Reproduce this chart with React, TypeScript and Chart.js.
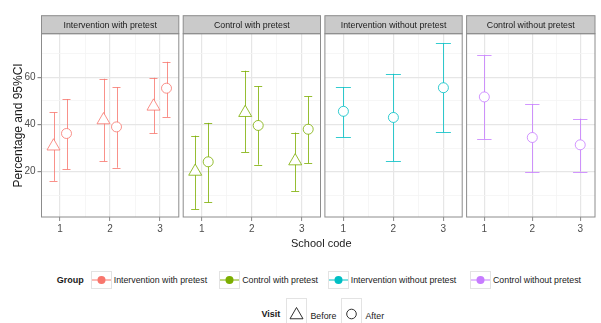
import React, { useEffect, useRef } from 'react';
import { Chart, registerables } from 'chart.js';

Chart.register(...registerables);

// ---------- data ----------
const schools = [1, 2, 3];
const groupNames = [
  'Intervention with pretest',
  'Control with pretest',
  'Intervention without pretest',
  'Control without pretest',
];
const groupColors = ['#F8766D', '#7CAE00', '#00BFC4', '#C77CFF'];
const visitNames = ['Before', 'After'];
const yMajorTicks = [20, 40, 60];
const yMinorTicks = [10, 30, 50, 70];

const iwpBeforeMean = [30.8, 41.9, 47.7];
const iwpBeforeLow = [16.1, 24.4, 36.2];
const iwpBeforeHigh = [45.1, 59.4, 59.8];
const iwpAfterMean = [36.2, 39.0, 55.4];
const iwpAfterLow = [21.0, 21.7, 43.2];
const iwpAfterHigh = [50.8, 55.8, 66.6];

const cwpBeforeMean = [20.1, 45.0, 24.5];
const cwpBeforeLow = [4.1, 28.3, 11.7];
const cwpBeforeHigh = [35.3, 62.8, 36.6];
const cwpAfterMean = [24.2, 39.6, 38.0];
const cwpAfterLow = [7.0, 23.0, 23.6];
const cwpAfterHigh = [40.7, 56.2, 51.9];

const iwopAfterMean = [45.6, 43.0, 55.6];
const iwopAfterLow = [34.6, 24.4, 36.7];
const iwopAfterHigh = [55.8, 61.5, 74.4];

const cwopAfterMean = [51.7, 34.5, 31.4];
const cwopAfterLow = [33.9, 19.7, 20.0];
const cwopAfterHigh = [69.3, 48.7, 42.5];

// ---------- layout / style ----------
const FONT = '"Liberation Sans", Arial, Helvetica, sans-serif';
const W = 601;
const CH = 250;
const PANEL_LEFT0 = 41.5;
const PANEL_STRIDE = 141.7;
const PANEL_W = 137.3;
const STRIP_H = 18;
const AREA_TOP = 33.7;
const AREA_BOTTOM = 217;
const X_MIN = 0.63;
const PX_PER_UNIT = 50;
const Y_MIN = 0.8;
const Y_MAX = 78.5;
const BORDER = '#8C8C8C';
const STRIP_FILL = '#CACACA';
const GRID_MAJOR = '#E6E6E6';
const GRID_MINOR = '#F4F4F4';
const TICK_TEXT = '#4D4D4D';
const MARK_ALPHA = 0.8;

function withAlpha(hex: string, a: number) {
  const n = parseInt(hex.slice(1), 16);
  return `rgba(${(n >> 16) & 255},${(n >> 8) & 255},${n & 255},${a})`;
}

type Series = { visit: string; mean: number[]; low: number[]; high: number[] };
const panels: { title: string; color: string; series: Series[] }[] = [
  {
    title: groupNames[0],
    color: groupColors[0],
    series: [
      { visit: visitNames[0], mean: iwpBeforeMean, low: iwpBeforeLow, high: iwpBeforeHigh },
      { visit: visitNames[1], mean: iwpAfterMean, low: iwpAfterLow, high: iwpAfterHigh },
    ],
  },
  {
    title: groupNames[1],
    color: groupColors[1],
    series: [
      { visit: visitNames[0], mean: cwpBeforeMean, low: cwpBeforeLow, high: cwpBeforeHigh },
      { visit: visitNames[1], mean: cwpAfterMean, low: cwpAfterLow, high: cwpAfterHigh },
    ],
  },
  {
    title: groupNames[2],
    color: groupColors[2],
    series: [{ visit: visitNames[1], mean: iwopAfterMean, low: iwopAfterLow, high: iwopAfterHigh }],
  },
  {
    title: groupNames[3],
    color: groupColors[3],
    series: [{ visit: visitNames[1], mean: cwopAfterMean, low: cwopAfterLow, high: cwopAfterHigh }],
  },
];

const xTickValues = [1, 1.5, 2, 2.5, 3];
const yTickValues = [...yMinorTicks, ...yMajorTicks].sort((a, b) => a - b);

const facetPlugin = {
  id: 'facet',
  beforeDraw(chart: any) {
    const { ctx, chartArea: a } = chart;
    ctx.save();
    ctx.fillStyle = '#FFFFFF';
    ctx.fillRect(a.left, a.top, a.right - a.left, a.bottom - a.top);
    ctx.fillStyle = STRIP_FILL;
    ctx.fillRect(a.left, a.top - STRIP_H, a.right - a.left, STRIP_H);
    ctx.restore();
  },
  beforeDatasetsDraw(chart: any) {
    const { ctx, scales } = chart;
    const x = scales.x;
    const y = scales.y;
    ctx.save();
    ctx.lineWidth = 1;
    chart.data.datasets.forEach((ds: any) => {
      ctx.strokeStyle = ds.borderColor;
      ds.data.forEach((p: any, i: number) => {
        const px = x.getPixelForValue(p.x);
        const cw = x.getPixelForValue(p.x + ds.capHalf) - px;
        const yl = y.getPixelForValue(ds.low[i]);
        const yh = y.getPixelForValue(ds.high[i]);
        const cx = Math.round(px) + 0.5;
        ctx.beginPath();
        ctx.moveTo(cx, yl);
        ctx.lineTo(cx, yh);
        ctx.moveTo(px - cw, Math.round(yl) + 0.5);
        ctx.lineTo(px + cw, Math.round(yl) + 0.5);
        ctx.moveTo(px - cw, Math.round(yh) + 0.5);
        ctx.lineTo(px + cw, Math.round(yh) + 0.5);
        ctx.stroke();
      });
    });
    ctx.restore();
  },
  afterDraw(chart: any, _args: any, opts: any) {
    const { ctx, chartArea: a } = chart;
    ctx.save();
    ctx.strokeStyle = BORDER;
    ctx.lineWidth = 1;
    ctx.strokeRect(a.left, a.top, a.right - a.left, a.bottom - a.top);
    ctx.strokeRect(a.left, a.top - STRIP_H, a.right - a.left, STRIP_H);
    ctx.fillStyle = '#1A1A1A';
    ctx.font = `8.8px ${FONT}`;
    ctx.textAlign = 'center';
    ctx.textBaseline = 'middle';
    ctx.fillText(opts.title, (a.left + a.right) / 2, a.top - STRIP_H / 2 + 0.5);
    ctx.restore();
  },
};

function Panel({ index }: { index: number }) {
  const ref = useRef<HTMLCanvasElement | null>(null);
  useEffect(() => {
    const p = panels[index];
    const left = PANEL_LEFT0 + index * PANEL_STRIDE;
    const right = Math.min(left + PANEL_W, W - 0.5);
    const xMax = X_MIN + (right - left) / PX_PER_UNIT;
    const dodge = p.series.length > 1;
    const offsets = dodge ? [-0.13, 0.13] : [0];
    const capHalf = dodge ? 0.08 : 0.15;
    const first = index === 0;
    const markColor = withAlpha(p.color, MARK_ALPHA);
    const datasets = p.series.map((s, si) => ({
      label: s.visit,
      data: schools.map((sc, i) => ({ x: sc + offsets[si], y: s.mean[i] })),
      low: s.low,
      high: s.high,
      capHalf,
      borderColor: markColor,
      backgroundColor: '#FFFFFF',
      borderWidth: 1,
      pointStyle: s.visit === 'Before' ? 'triangle' : 'circle',
      pointRadius: s.visit === 'Before' ? 7.5 : 5,
      showLine: false,
    }));
    const chart = new Chart(ref.current as HTMLCanvasElement, {
      type: 'scatter',
      data: { datasets } as any,
      plugins: [facetPlugin],
      options: {
        responsive: false,
        animation: false,
        events: [],
        layout: {
          padding: { top: AREA_TOP, bottom: 0, left: first ? 0 : left, right: W - right },
        },
        plugins: {
          legend: { display: false },
          tooltip: { enabled: false },
          facet: { title: p.title },
        } as any,
        scales: {
          x: {
            type: 'linear',
            min: X_MIN,
            max: xMax,
            afterBuildTicks: (s: any) => {
              s.ticks = xTickValues.map((v) => ({ value: v }));
            },
            afterFit: (s: any) => {
              s.height = CH - AREA_BOTTOM;
            },
            border: { display: false },
            grid: {
              color: (c: any) => (schools.includes(c.tick?.value) ? GRID_MAJOR : GRID_MINOR),
              lineWidth: (c: any) => (schools.includes(c.tick?.value) ? 1.2 : 0.8),
              tickColor: (c: any) => (schools.includes(c.tick?.value) ? BORDER : 'rgba(0,0,0,0)'),
              tickLength: 4,
              tickWidth: 1,
            },
            ticks: {
              autoSkip: false,
              maxRotation: 0,
              padding: 2,
              color: TICK_TEXT,
              font: { family: FONT, size: 10 },
              callback: (v: any) => (schools.includes(v) ? String(v) : ''),
            },
          },
          y: {
            type: 'linear',
            min: Y_MIN,
            max: Y_MAX,
            afterBuildTicks: (s: any) => {
              s.ticks = yTickValues.map((v) => ({ value: v }));
            },
            afterFit: (s: any) => {
              s.width = first ? PANEL_LEFT0 : 0;
            },
            border: { display: false },
            grid: {
              color: (c: any) => (yMajorTicks.includes(c.tick?.value) ? GRID_MAJOR : GRID_MINOR),
              lineWidth: (c: any) => (yMajorTicks.includes(c.tick?.value) ? 1.2 : 0.8),
              tickColor: (c: any) => (yMajorTicks.includes(c.tick?.value) ? BORDER : 'rgba(0,0,0,0)'),
              drawTicks: first,
              tickLength: 4,
            },
            ticks: {
              display: first,
              padding: 2,
              color: TICK_TEXT,
              font: { family: FONT, size: 10 },
              callback: (v: any) => (yMajorTicks.includes(v) ? String(v) : ''),
            },
            title: {
              display: first,
              text: 'Percentage and 95%CI',
              color: '#1A1A1A',
              font: { family: FONT, size: 12 },
              padding: { top: 11, bottom: 0 },
            },
          },
        },
      } as any,
    });
    return () => chart.destroy();
  }, [index]);
  return (
    <canvas
      ref={ref}
      width={W}
      height={CH}
      style={{ position: 'absolute', left: 0, top: 0, width: W, height: CH }}
    />
  );
}

const groupBoxLefts = [90.7, 219.2, 327.7, 470];
const visitBoxLefts = [286, 341];

function Legend() {
  const textStyle: React.CSSProperties = {
    position: 'absolute',
    fontFamily: FONT,
    fontSize: 8.8,
    color: '#1A1A1A',
    whiteSpace: 'nowrap',
    lineHeight: '12px',
  };
  const boxStyle: React.CSSProperties = {
    position: 'absolute',
    border: '1px solid #E3E3E3',
    boxSizing: 'border-box',
    background: '#FFFFFF',
  };
  return (
    <>
      <div style={{ ...textStyle, left: 56.7, top: 273.5, fontWeight: 'bold', fontSize: 9 }}>Group</div>
      {groupNames.map((g, i) => (
        <React.Fragment key={g}>
          <div style={{ ...boxStyle, left: groupBoxLefts[i], top: 271, width: 21, height: 18 }}>
            <svg width={19} height={16} style={{ display: 'block' }}>
              <line x1={0} y1={8} x2={19} y2={8} stroke={groupColors[i]} strokeWidth={1} />
              <circle cx={9.5} cy={8} r={4} fill={groupColors[i]} />
            </svg>
          </div>
          <div style={{ ...textStyle, left: groupBoxLefts[i] + 23, top: 273.5 }}>{g}</div>
        </React.Fragment>
      ))}
      <div style={{ ...textStyle, left: 261.5, top: 308, fontWeight: 'bold', fontSize: 9 }}>Visit</div>
      {visitNames.map((v, i) => (
        <React.Fragment key={v}>
          <div style={{ ...boxStyle, left: visitBoxLefts[i], top: 298, width: 21, height: 34 }}>
            <svg width={19} height={32} style={{ display: 'block' }}>
              {v === 'Before' ? (
                <polygon points="9.5,8.5 16,19.75 3,19.75" fill="none" stroke="#1A1A1A" strokeWidth={0.9} />
              ) : (
                <circle cx={9.5} cy={15} r={4.8} fill="none" stroke="#1A1A1A" strokeWidth={0.9} />
              )}
            </svg>
          </div>
          <div style={{ ...textStyle, left: visitBoxLefts[i] + 24.5, top: 309.5 }}>{v}</div>
        </React.Fragment>
      ))}
    </>
  );
}

export default function App() {
  return (
    <div
      style={{
        position: 'absolute',
        left: 0,
        top: 0,
        width: W,
        height: 323,
        overflow: 'hidden',
        background: '#FFFFFF',
      }}
    >
      {panels.map((_, i) => (
        <Panel key={i} index={i} />
      ))}
      <div
        style={{
          position: 'absolute',
          left: PANEL_LEFT0,
          width: W - PANEL_LEFT0,
          top: 236,
          textAlign: 'center',
          fontFamily: FONT,
          fontSize: 11,
          lineHeight: '14px',
          color: '#1A1A1A',
        }}
      >
        School code
      </div>
      <Legend />
    </div>
  );
}
